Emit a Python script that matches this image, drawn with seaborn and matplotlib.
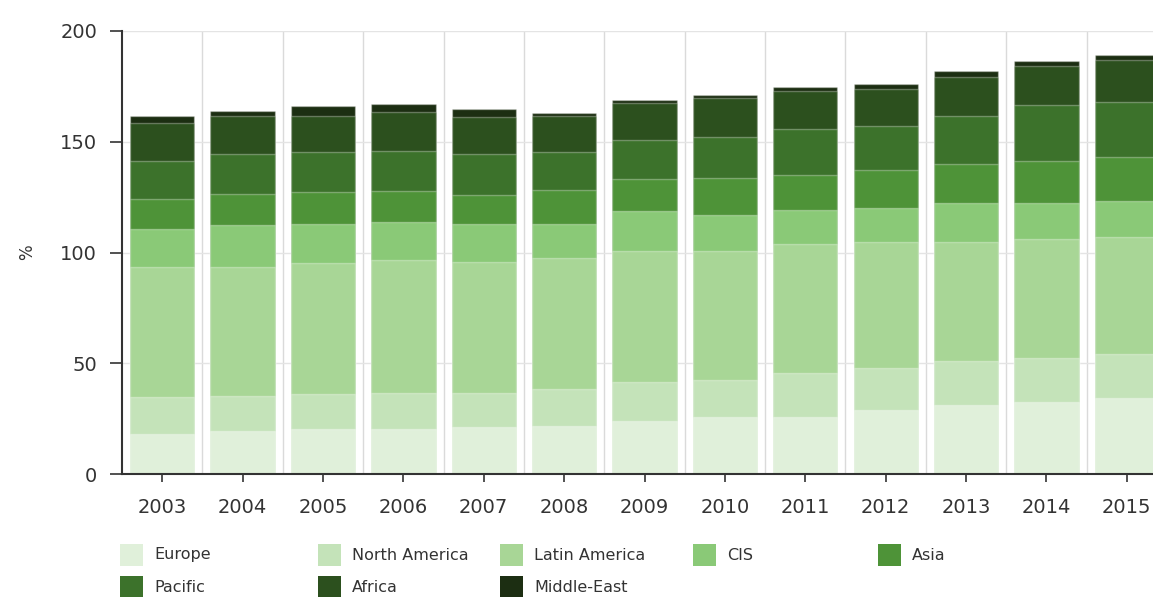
import numpy as np
import pandas as pd
import seaborn as sns
import matplotlib.pyplot as plt
from matplotlib.patches import Rectangle

sns.set_theme(style="white")
plt.rcParams['font.family'] = ['DejaVu Sans']

years = ["2003", "2004", "2005", "2006", "2007", "2008", "2009",
         "2010", "2011", "2012", "2013", "2014", "2015"]
regions = ["Europe", "North America", "Latin America", "CIS", "Asia",
           "Pacific", "Africa", "Middle-East"]

europe = [18.0, 19.4, 20.2, 20.2, 21.1, 21.7, 24.1, 25.6, 25.6, 28.9, 31.2, 32.6, 34.2]
north_america = [16.6, 16.0, 15.8, 16.5, 15.6, 16.7, 17.3, 16.7, 20.0, 19.0, 19.8, 19.9, 20.0]
latin_america = [59.0, 58.2, 59.1, 59.9, 59.1, 59.0, 59.1, 58.2, 58.1, 56.7, 53.6, 53.5, 52.7]
cis = [17.2, 18.7, 17.9, 17.2, 17.2, 15.6, 18.1, 16.6, 15.6, 15.5, 17.9, 16.5, 16.5]
asia = [13.4, 14.0, 14.2, 14.1, 13.1, 15.1, 14.7, 16.5, 15.5, 17.3, 17.3, 18.8, 19.6]
pacific = [17.1, 18.2, 18.0, 18.1, 18.4, 17.1, 17.5, 18.7, 20.8, 19.7, 22.0, 25.3, 25.1]
africa = [17.0, 17.3, 16.6, 17.3, 16.5, 16.6, 16.6, 17.3, 17.3, 16.6, 17.3, 17.7, 18.8]
middle_east = [3.5, 2.1, 4.3, 3.7, 3.6, 1.0, 1.4, 1.3, 2.0, 2.2, 3.0, 2.3, 2.1]

colors = ["#e0f0da", "#c4e3b9", "#a8d696", "#8ac977", "#4e9338",
          "#3c722b", "#2c501e", "#1c2e12"]

df = pd.DataFrame({
    "Europe": europe, "North America": north_america,
    "Latin America": latin_america, "CIS": cis, "Asia": asia,
    "Pacific": pacific, "Africa": africa, "Middle-East": middle_east,
}, index=years)
cum = df.cumsum(axis=1)

fig = plt.figure(figsize=(11.53, 5.97), dpi=100)
ax = fig.add_axes([122 / 1153, 1 - 474 / 597, 1045 / 1153, 443 / 597])

# Draw stacked bars from the tallest layer down so each covers the one below
for region, color in zip(regions[::-1], colors[::-1]):
    sns.barplot(x=years, y=cum[region].values, color=color, width=0.8,
                edgecolor=(1, 1, 1, 0.3), linewidth=1, saturation=1, ax=ax)

ax.set_xlim(-0.5, len(years) - 0.5)
ax.set_ylim(0, 200)
ax.set_yticks([0, 50, 100, 150, 200])
ax.set_xticks(np.arange(len(years)))
ax.set_xticklabels(years)
ax.set_xticks(np.arange(len(years) - 1) + 0.5, minor=True)
ax.set_xlabel("")
ax.set_ylabel("%", fontsize=12, color="#333333")
ax.yaxis.set_label_coords(-86 / 1045, 0.5)

ax.set_axisbelow(True)
ax.yaxis.grid(True, color="#e4e4e4", linewidth=1)
ax.xaxis.grid(True, which="minor", color="#dadada", linewidth=1)
ax.xaxis.grid(False, which="major")

ax.tick_params(axis="y", which="major", direction="out", length=9, width=1.2,
               pad=9, labelsize=14, labelcolor="#333333", color="#333333", left=True)
ax.tick_params(axis="x", which="major", direction="out", length=6, width=1.2,
               pad=11, labelsize=14, labelcolor="#333333", color="#333333", bottom=True)
ax.tick_params(axis="x", which="minor", length=0)

sns.despine(ax=ax, top=True, right=True)
for side in ["left", "bottom"]:
    ax.spines[side].set_color("#333333")
    ax.spines[side].set_linewidth(1.5)

# Legend laid out in two rows below the chart
col_x = [120, 318, 500, 693, 878]
row_y = [555, 587]
for i, (region, color) in enumerate(zip(regions, colors)):
    x0 = col_x[i % 5]
    y0 = row_y[i // 5]
    fig.add_artist(Rectangle((x0 / 1153, 1 - (y0 + 11) / 597), 23 / 1153, 22 / 597,
                             transform=fig.transFigure, facecolor=color,
                             edgecolor="none"))
    fig.text((x0 + 34) / 1153, 1 - y0 / 597, region, fontsize=11.5,
             color="#333333", va="center", ha="left")

fig.savefig("out.png", dpi=100)
